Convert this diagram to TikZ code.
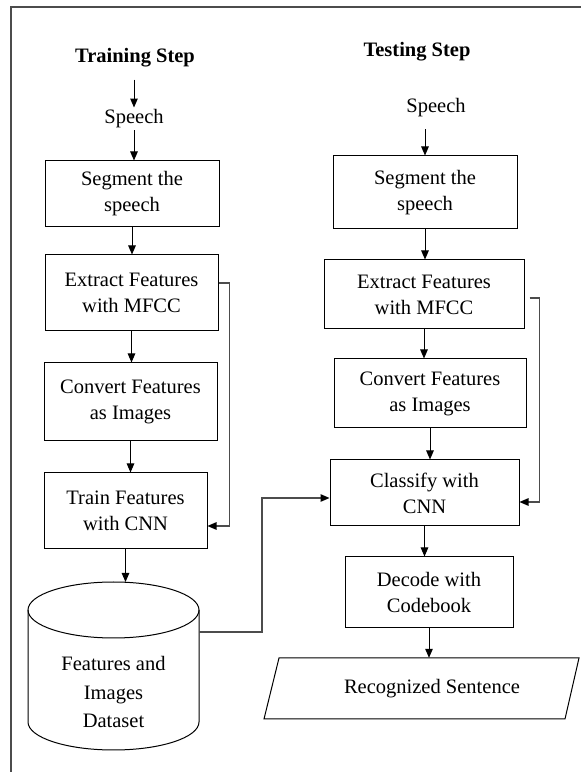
\documentclass[tikz,border=0pt]{standalone}
\usepackage{fontspec}
\setmainfont{Liberation Serif}
\usetikzlibrary{arrows.meta}
\begin{document}
\begin{tikzpicture}[x=1pt,y=1pt,
  every node/.style={font=\fontsize{20.5}{26}\selectfont, inner sep=2pt},
  box/.style={draw, line width=1pt, align=center},
  title/.style={font=\fontsize{20.5}{26}\selectfont\bfseries},
  arr/.style={line width=1pt, -{Triangle[length=9pt,width=7.5pt]}},
  link/.style={line width=1.2pt, black!70, -{Triangle[length=9pt,width=7.5pt,color=black]}}]
\useasboundingbox (0,0) rectangle (581,772);
% frame
\draw[line width=1.5pt, black!70] (11,0) -- (11,765) -- (581,765);
% training step
\node[title] (ttrain) at (135,714) {Training Step};
\node (sp1) at (134,653) {Speech};
\node[box, minimum width=174pt, minimum height=66pt] (b1) at (132,578) {Segment the\\speech};
\node[box, minimum width=173pt, minimum height=76pt] (b2) at (131.5,479) {Extract Features\\with MFCC};
\node[box, minimum width=173pt, minimum height=78pt] (b3) at (130.5,370) {Convert Features\\as Images};
\node[box, minimum width=163pt, minimum height=76pt] (b4) at (125.5,261) {Train Features\\with CNN};
% dataset cylinder
\draw[line width=1pt] (28,162) -- (28,50) arc[start angle=180, end angle=360, x radius=85.5, y radius=28] -- (199,162);
\draw[line width=1pt] (113.5,162) ellipse[x radius=85.5, y radius=28];
\coordinate (dstop) at (125.5,190);
\coordinate (dsr) at (199,140);
\node[align=center, font=\fontsize{20.5}{28.5}\selectfont] (ds) at (113.5,80) {Features and\\Images\\Dataset};
% testing step
\node[title] (ttest) at (417,720) {Testing Step};
\node (sp2) at (436,664) {Speech};
\node[box, minimum width=184pt, minimum height=73pt] (t1) at (425,579.5) {Segment the\\speech};
\node[box, minimum width=200pt, minimum height=69pt] (t2) at (424,477.5) {Extract Features\\with MFCC};
\node[box, minimum width=192pt, minimum height=69pt] (t3) at (430,378.5) {Convert Features\\as Images};
\node[box, minimum width=189pt, minimum height=66pt] (t5) at (424.5,279) {Classify with\\CNN};
\node[box, minimum width=168pt, minimum height=71pt] (t6) at (429,179.5) {Decode with\\Codebook};
% output sentence
\draw[line width=1pt] (264,53) -- (279,114) -- (579,114) -- (565,53) -- cycle;
\node[minimum height=61pt] (out) at (432,83.5) {Recognized Sentence};
% arrows training
\draw[arr, shorten <=10pt] (sp1.north |- ttrain.south) -- (sp1.north);
\draw[arr] (sp1.south) -- (sp1.south |- b1.north);
\draw[arr] (b1.south) -- (b1.south |- b2.north);
\draw[arr] (b2.south) -- (b2.south |- b3.north);
\draw[arr] (b3.south) -- (b3.south |- b4.north);
\draw[arr] (b4.south) -- (dstop);
% arrows testing
\draw[arr, shorten <=10pt] (t1.north |- sp2.south) -- (t1.north);
\draw[arr] (t1.south) -- (t1.south |- t2.north);
\draw[arr] (t2.south) -- (t2.south |- t3.north);
\draw[arr] (t3.south) -- (t3.south |- t5.north);
\draw[arr] (t5.south) -- (t5.south |- t6.north);
\draw[arr] (t6.south) -- (t6.south |- out.north);
% side links
\draw[link] ([yshift=10pt]b2.east) -- ++(11,0) |- ([yshift=-15pt]b4.east);
\draw[link] ([yshift=-3.5pt,xshift=5pt]t2.east) -- ++(10,0) |- ([yshift=-9pt]t5.east);
\draw[link] (dsr) -- ++(63,0) |- ([yshift=-5pt]t5.west);
\end{tikzpicture}
\end{document}
